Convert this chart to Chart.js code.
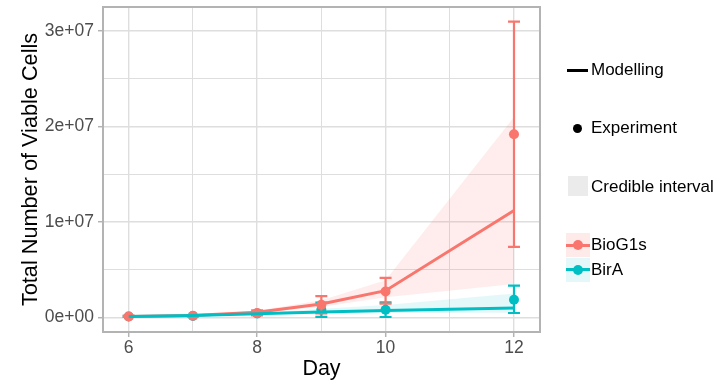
<!DOCTYPE html>
<html>
<head>
<meta charset="utf-8">
<script src="https://cdn.jsdelivr.net/npm/chart.js@4"></script>
<style>
  body { margin: 0; background: #fff; }
  #wrap { position: relative; width: 725px; height: 382px; font-family: "Liberation Sans", Arial, sans-serif; }
  canvas { position: absolute; left: 0; top: 0; }
  .lg { position: absolute; font-size: 17px; line-height: 20px; color: #000; white-space: nowrap; }
  .key { position: absolute; }
</style>
</head>
<body>
<div id="wrap">
  <canvas id="chart" width="725" height="382"></canvas>
</div>
<script>
// days measured / modelled
let days = [6, 7, 8, 9, 10, 12];

// modelled medians
let bioModel = [0.1e6, 0.2e6, 0.55e6, 1.4e6, 2.8e6, 11.2e6];
let birModel = [0.1e6, 0.2e6, 0.38e6, 0.56e6, 0.73e6, 0.98e6];

// credible intervals
let bioLow = [0.08e6, 0.16e6, 0.45e6, 1.1e6, 2.1e6, 3.5e6];
let bioHigh = [0.12e6, 0.25e6, 0.7e6, 1.8e6, 3.9e6, 21.0e6];
let birLow = [0.08e6, 0.15e6, 0.3e6, 0.4e6, 0.45e6, 0.5e6];
let birHigh = [0.12e6, 0.25e6, 0.5e6, 0.9e6, 1.3e6, 2.5e6];

// experiment means and error bars
let bioExp = [0.1e6, 0.18e6, 0.46e6, 1.33e6, 2.72e6, 19.2e6];
let bioErrLow = [0.05e6, 0.12e6, 0.2e6, 0.43e6, 1.45e6, 7.4e6];
let bioErrHigh = [0.15e6, 0.24e6, 0.75e6, 2.24e6, 4.15e6, 31.0e6];
let birExp = [0.1e6, 0.15e6, 0.4e6, 0.8e6, 0.8e6, 1.85e6];
let birErrLow = [0.05e6, 0.1e6, 0.25e6, 0.05e6, 0.04e6, 0.46e6];
let birErrHigh = [0.15e6, 0.2e6, 0.55e6, 1.55e6, 1.57e6, 3.32e6];

// grid positions and tick labels
let xGrid = [6, 7, 8, 9, 10, 11, 12];
let yGrid = [0, 5e6, 10e6, 15e6, 20e6, 25e6, 30e6];
let xTickLabels = { 6: '6', 8: '8', 10: '10', 12: '12' };
let yTickLabels = { 0: '0e+00', 10000000: '1e+07', 20000000: '2e+07', 30000000: '3e+07' };

const RED = '#F8766D';
const TEAL = '#00BFC4';
const FONT = '"Liberation Sans", Arial, sans-serif';

function pts(ys) {
    return days.map((d, i) => ({ x: d, y: ys[i] }));
}

// error bars + panel border drawn through the chart scales
const errorBars = {
    id: 'errorBars',
    afterDatasetDraw(chart, args) {
        let ds = chart.data.datasets[args.index];
        if (!ds.errLow) return;
        let ctx = chart.ctx;
        let xs = chart.scales.x, ys = chart.scales.y;
        ctx.save();
        ctx.strokeStyle = ds.borderColor;
        ctx.lineWidth = 2.2;
        days.forEach((d, i) => {
            let x = xs.getPixelForValue(d);
            let y1 = ys.getPixelForValue(ds.errLow[i]);
            let y2 = ys.getPixelForValue(ds.errHigh[i]);
            ctx.beginPath();
            ctx.moveTo(x, y1); ctx.lineTo(x, y2);
            ctx.moveTo(x - 6, y1); ctx.lineTo(x + 6, y1);
            ctx.moveTo(x - 6, y2); ctx.lineTo(x + 6, y2);
            ctx.stroke();
        });
        ctx.restore();
    },
    afterDraw(chart) {
        let a = chart.chartArea;
        let ctx = chart.ctx;
        ctx.save();
        ctx.strokeStyle = '#B3B3B3';
        ctx.lineWidth = 2;
        ctx.strokeRect(a.left, a.top, a.right - a.left, a.bottom - a.top);
        ctx.restore();
    }
};

new Chart(document.getElementById('chart'), {
    type: 'line',
    data: {
        datasets: [
            { label: 'bioLow', data: pts(bioLow), borderWidth: 0, pointRadius: 0, fill: false, order: 10 },
            { label: 'bioHigh', data: pts(bioHigh), borderWidth: 0, pointRadius: 0, fill: '-1', backgroundColor: 'rgba(248,118,109,0.13)', order: 9 },
            { label: 'birLow', data: pts(birLow), borderWidth: 0, pointRadius: 0, fill: false, order: 8 },
            { label: 'birHigh', data: pts(birHigh), borderWidth: 0, pointRadius: 0, fill: '-1', backgroundColor: 'rgba(0,191,196,0.1)', order: 7 },
            { label: 'birExp', data: pts(birExp), showLine: false, pointRadius: 5, pointBackgroundColor: TEAL, pointBorderWidth: 0, borderColor: TEAL, errLow: birErrLow, errHigh: birErrHigh, order: 6 },
            { label: 'bioExp', data: pts(bioExp), showLine: false, pointRadius: 5, pointBackgroundColor: RED, pointBorderWidth: 0, borderColor: RED, errLow: bioErrLow, errHigh: bioErrHigh, order: 5 },
            { label: 'bioModel', data: pts(bioModel), borderColor: RED, borderWidth: 3, pointRadius: 0, fill: false, order: 4 },
            { label: 'birModel', data: pts(birModel), borderColor: TEAL, borderWidth: 3, pointRadius: 0, fill: false, order: 3 }
        ]
    },
    options: {
        responsive: false,
        animation: false,
        events: [],
        layout: { padding: { top: 7, right: 185, bottom: 0, left: 0 } },
        plugins: { legend: { display: false }, tooltip: { enabled: false } },
        scales: {
            x: {
                type: 'linear',
                min: 5.6,
                max: 12.405,
                afterBuildTicks: s => { s.ticks = xGrid.map(v => ({ value: v })); },
                afterFit: s => { s.height = 50; s.paddingLeft = 0; s.paddingRight = 0; },
                ticks: {
                    autoSkip: false,
                    maxRotation: 0,
                    padding: 1,
                    color: '#4D4D4D',
                    font: { family: FONT, size: 17.5 },
                    callback: v => xTickLabels[v] || ''
                },
                grid: {
                    color: '#DEDEDE',
                    lineWidth: c => (c.tick && xTickLabels[c.tick.value]) ? 1.4 : 1,
                    tickLength: 5,
                    tickColor: c => (c.tick && xTickLabels[c.tick.value]) ? '#B3B3B3' : 'rgba(0,0,0,0)',
                    tickWidth: 1.5
                },
                border: { display: false },
                title: { display: true, text: 'Day', color: '#000', font: { family: FONT, size: 21.5 }, padding: { top: 0, bottom: 0 } }
            },
            y: {
                min: -1.53e6,
                max: 3.253e7,
                afterBuildTicks: s => { s.ticks = yGrid.map(v => ({ value: v })); },
                afterFit: s => { s.width = 103; s.paddingTop = 0; s.paddingBottom = 0; },
                ticks: {
                    autoSkip: false,
                    padding: 4,
                    color: '#4D4D4D',
                    font: { family: FONT, size: 17.5 },
                    callback: v => yTickLabels[v] || ''
                },
                grid: {
                    color: '#DEDEDE',
                    lineWidth: c => (c.tick && yTickLabels[c.tick.value]) ? 1.4 : 1,
                    tickLength: 5,
                    tickColor: c => (c.tick && yTickLabels[c.tick.value]) ? '#B3B3B3' : 'rgba(0,0,0,0)',
                    tickWidth: 1.5
                },
                border: { display: false },
                title: { display: true, text: 'Total Number of Viable Cells', color: '#000', font: { family: FONT, size: 21.7 }, padding: { top: 18, bottom: 0 } }
            }
        }
    },
    plugins: [errorBars]
});

// legend, built as html to the right of the panel
let wrap = document.getElementById('wrap');
function addKey(style) {
    let d = document.createElement('div');
    d.className = 'key';
    Object.assign(d.style, style);
    wrap.appendChild(d);
    return d;
}
function addText(text, cy) {
    let d = document.createElement('div');
    d.className = 'lg';
    d.textContent = text;
    d.style.left = '591px';
    d.style.top = (cy - 10) + 'px';
    wrap.appendChild(d);
}

addKey({ left: '567px', top: '68.5px', width: '21px', height: '3px', background: '#000' });
addText('Modelling', 70);

addKey({ left: '572.5px', top: '123.5px', width: '9px', height: '9px', borderRadius: '50%', background: '#000' });
addText('Experiment', 128);

addKey({ left: '568px', top: '176px', width: '20px', height: '20px', background: '#EBEBEB' });
addText('Credible interval', 186.5);

[['BioG1s', RED, 'rgba(248,118,109,0.15)', 233, 245],
 ['BirA', TEAL, 'rgba(0,191,196,0.1)', 257.5, 269.5]].forEach(([name, col, bg, top, cy]) => {
    addKey({ left: '566px', top: top + 'px', width: '24px', height: '24px', background: bg });
    addKey({ left: '566px', top: (cy - 1.5) + 'px', width: '24px', height: '3px', background: col });
    addKey({ left: '573px', top: (cy - 5) + 'px', width: '10px', height: '10px', borderRadius: '50%', background: col });
    addText(name, cy);
});
</script>
</body>
</html>
